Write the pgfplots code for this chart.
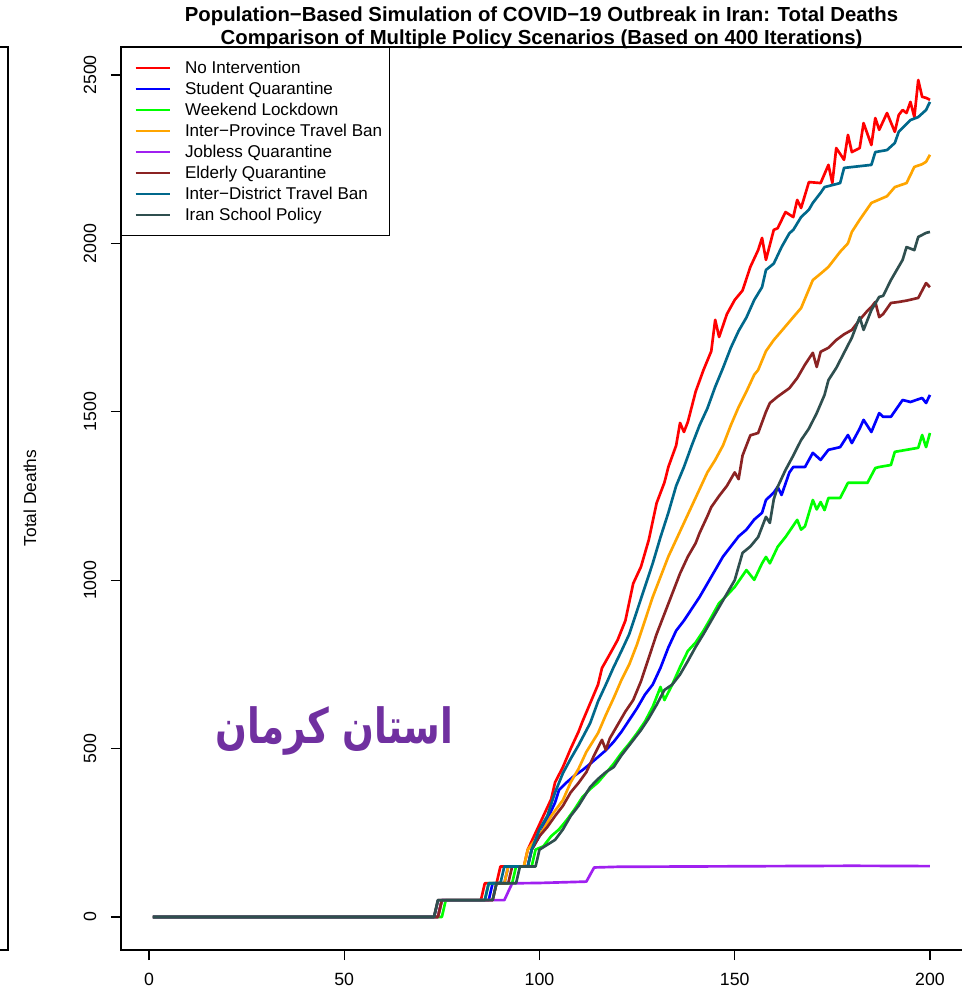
\documentclass[border=0pt]{standalone}
\usepackage{fontspec}
\setmainfont{Liberation Sans}
\newfontfamily\arabicfont[Script=Arabic]{DejaVu Sans}
\usepackage{pgfplots}
\pgfplotsset{compat=1.18}
\TeXXeTstate=1
\definecolor{cRed}{HTML}{FF0000}
\definecolor{cBlue}{HTML}{0000FF}
\definecolor{cGreen}{HTML}{00FF00}
\definecolor{cOrange}{HTML}{FFA500}
\definecolor{cPurple}{HTML}{A020F0}
\definecolor{cBrown}{HTML}{8B2323}
\definecolor{cTeal}{HTML}{00688B}
\definecolor{cSlate}{HTML}{2F4F4F}
\definecolor{cText}{HTML}{7030A0}
\begin{document}
\begin{tikzpicture}
\begin{axis}[
  at={(0,0)}, anchor=south west,
  scale only axis, width=636pt, height=677.25pt,
  xmin=-7.17, xmax=210, ymin=-98, ymax=2583,
  axis line style={line width=1pt},
  xtick={0,50,100,150,200}, xticklabels={0,50,100,150,200},
  ytick={0,500,1000,1500,2000,2500}, yticklabels={0,500,1000,1500,2000,2500},
  xtick pos=bottom, ytick pos=left,
  tick align=outside, major tick length=7.5pt,
  every tick/.style={black, line width=1pt},
  ticklabel style={font=\fontsize{13.3}{16}\selectfont},
  xticklabel style={anchor=north, inner sep=0pt},
  yticklabel style={rotate=90, anchor=south, inner sep=0pt},
  xticklabel shift=9.75pt, yticklabel shift=10.9pt,
  legend style={at={(0,1)}, anchor=north west, draw=black, line width=1pt,
    fill=white, font=\fontsize{12.8}{15.75}\selectfont,
    inner xsep=5.5pt, inner ysep=7.5pt, row sep=0pt, column sep=10.5pt,
    nodes={inner sep=0pt, minimum height=15.75pt}},
  legend cell align=left,
  legend image code/.code={\path (0pt,0pt); \draw[#1] (4pt,0pt) -- (29.5pt,0pt);},
  every axis plot/.append style={line width=2pt, line join=round},
]
\addplot[cRed] coordinates {(1,0) (73,0) (74,50) (85,50) (86,100) (89,100) (90,150) (96,150) (97,200) (99,250) (101,300) (103,350) (104,400) (106,445) (108,500) (110,550) (111,580) (113,635) (115,690) (116,739) (118,780) (120,822) (122,880) (124,990) (126,1040) (128,1120) (130,1229) (132,1290) (133,1336) (135,1400) (136,1467) (137,1440) (138,1470) (140,1560) (142,1624) (144,1680) (145,1773) (146,1722) (148,1790) (150,1832) (152,1860) (154,1930) (156,1980) (157,2016) (158,1951) (160,2040) (161,2045) (163,2093) (165,2078) (166,2129) (167,2105) (169,2182) (172,2179) (174,2233) (175,2179) (176,2283) (178,2248) (179,2322) (180,2271) (182,2283) (183,2357) (185,2292) (186,2372) (187,2337) (189,2387) (191,2331) (192,2381) (193,2396) (194,2387) (195,2420) (196,2375) (197,2485) (198,2435) (199,2432) (200,2426)};
\addplot[cBlue] coordinates {(1,0) (74,0) (75,50) (87,50) (88,100) (91,100) (92,150) (97,150) (98,200) (100,240) (102,290) (104,340) (105,377) (107,400) (109,420) (111,436) (113,455) (115,475) (117,495) (119,520) (121,550) (123,585) (125,620) (127,660) (129,690) (131,740) (133,800) (135,850) (137,880) (139,915) (141,950) (143,990) (145,1030) (147,1070) (149,1100) (151,1130) (153,1150) (155,1180) (157,1200) (158,1238) (160,1260) (161,1277) (162,1253) (164,1320) (165,1336) (168,1336) (170,1378) (172,1357) (174,1387) (177,1395) (179,1431) (180,1407) (182,1450) (183,1476) (185,1440) (187,1496) (188,1485) (190,1485) (193,1535) (195,1529) (198,1541) (199,1526) (200,1550)};
\addplot[cGreen] coordinates {(1,0) (75,0) (76,50) (86,50) (87,100) (93,100) (94,150) (98,150) (99,200) (101,210) (103,240) (105,260) (107,288) (109,320) (111,356) (113,380) (115,400) (117,427) (119,455) (121,487) (123,515) (125,546) (127,580) (129,624) (131,683) (132,644) (134,690) (136,742) (138,790) (140,815) (142,850) (144,890) (146,932) (148,955) (150,980) (153,1030) (155,1001) (157,1050) (158,1069) (159,1050) (161,1099) (163,1128) (166,1179) (167,1150) (168,1160) (170,1238) (171,1210) (172,1232) (173,1208) (174,1244) (177,1244) (179,1289) (184,1289) (186,1333) (187,1336) (190,1342) (191,1381) (194,1387) (197,1393) (198,1431) (199,1395) (200,1437)};
\addplot[cOrange] coordinates {(1,0) (74,0) (75,50) (88,50) (89,100) (91,100) (92,150) (96,150) (97,200) (99,230) (101,260) (103,300) (106,347) (108,400) (110,440) (112,490) (115,546) (117,600) (119,650) (121,704) (123,750) (125,810) (127,880) (129,950) (131,1010) (133,1070) (135,1120) (137,1170) (139,1220) (141,1270) (143,1320) (145,1357) (147,1400) (149,1460) (151,1514) (153,1560) (155,1610) (156,1624) (158,1680) (160,1713) (162,1740) (165,1781) (167,1808) (170,1891) (172,1910) (174,1930) (177,1975) (179,2000) (180,2034) (182,2070) (185,2120) (187,2130) (189,2140) (191,2167) (194,2179) (196,2227) (198,2235) (199,2242) (200,2263)};
\addplot[cPurple] coordinates {(1,0) (74,0) (75,50) (91,50) (93,100) (100,101) (106,103) (112,105) (114,147) (120,149) (140,150) (160,151) (180,152) (200,151)};
\addplot[cBrown] coordinates {(1,0) (74,0) (75,50) (88,50) (89,100) (92,100) (93,150) (97,150) (98,200) (100,240) (102,267) (104,300) (106,330) (108,370) (110,398) (112,430) (114,480) (116,526) (117,496) (118,530) (120,570) (122,610) (124,644) (126,700) (128,770) (130,840) (132,900) (134,960) (136,1020) (138,1070) (140,1110) (141,1140) (143,1190) (144,1217) (146,1250) (148,1280) (150,1320) (151,1300) (152,1370) (154,1430) (156,1437) (158,1500) (159,1526) (161,1545) (164,1570) (166,1600) (168,1640) (170,1675) (171,1633) (172,1678) (174,1690) (176,1713) (178,1730) (180,1743) (182,1773) (184,1800) (185,1811) (186,1826) (187,1781) (188,1790) (190,1823) (192,1826) (194,1830) (197,1838) (199,1882) (200,1870)};
\addplot[cTeal] coordinates {(1,0) (73,0) (74,50) (86,50) (87,100) (90,100) (91,150) (97,150) (98,200) (100,260) (102,300) (104,370) (106,427) (108,470) (110,510) (113,576) (115,640) (117,690) (119,742) (121,790) (123,840) (125,910) (127,980) (129,1050) (131,1128) (133,1200) (135,1280) (137,1336) (139,1400) (141,1460) (143,1510) (145,1574) (147,1630) (149,1690) (151,1740) (153,1780) (155,1832) (157,1870) (158,1921) (160,1940) (162,1989) (164,2030) (165,2040) (167,2078) (169,2100) (170,2120) (172,2150) (173,2167) (177,2179) (178,2224) (185,2233) (186,2271) (189,2277) (191,2298) (192,2331) (195,2366) (197,2375) (199,2396) (200,2420)};
\addplot[cSlate] coordinates {(1,0) (73,0) (74,50) (88,50) (89,100) (94,100) (95,150) (99,150) (100,200) (104,229) (106,260) (108,300) (110,330) (113,386) (115,410) (117,430) (119,445) (121,480) (123,510) (126,555) (128,590) (130,630) (132,674) (134,690) (136,720) (138,760) (140,802) (142,840) (144,880) (146,920) (148,960) (150,1000) (152,1081) (154,1100) (156,1128) (158,1188) (159,1170) (160,1240) (161,1277) (163,1327) (165,1370) (167,1416) (169,1450) (171,1496) (173,1550) (174,1594) (176,1630) (178,1675) (180,1720) (182,1781) (183,1743) (185,1802) (187,1841) (188,1844) (190,1891) (193,1951) (194,1989) (196,1980) (197,2019) (199,2031) (200,2034)};
\legend{No Intervention, Student Quarantine, Weekend Lockdown, Inter−Province Travel Ban, Jobless Quarantine, Elderly Quarantine, Inter−District Travel Ban, Iran School Policy}
\end{axis}
\node[anchor=base, font=\fontsize{15.25}{17}\selectfont\bfseries] at (315.4pt,696.2pt) {Population−Based Simulation of COVID−19 Outbreak in Iran: Total Deaths};
\node[anchor=base, font=\fontsize{15.25}{17}\selectfont\bfseries] at (315.4pt,678.75pt) {Comparison of Multiple Policy Scenarios (Based on 400 Iterations)};
\node[rotate=90, font=\fontsize{13}{15}\selectfont] at (-68.25pt,339pt) {Total Deaths};
\node[text=cText, font=\arabicfont\bfseries\fontsize{28}{32}\selectfont, yscale=1.3, transform shape] at (160.1pt,164.25pt) {\beginR استان کرمان\endR};
\draw[line width=1pt] (-92pt,677.25pt) -- (-84.75pt,677.25pt) -- (-84.75pt,0pt) -- (-92pt,0pt);
\pgfresetboundingbox
\useasboundingbox (-90.75pt,-33.75pt) rectangle (630pt,712.5pt);
\end{tikzpicture}
\end{document}
